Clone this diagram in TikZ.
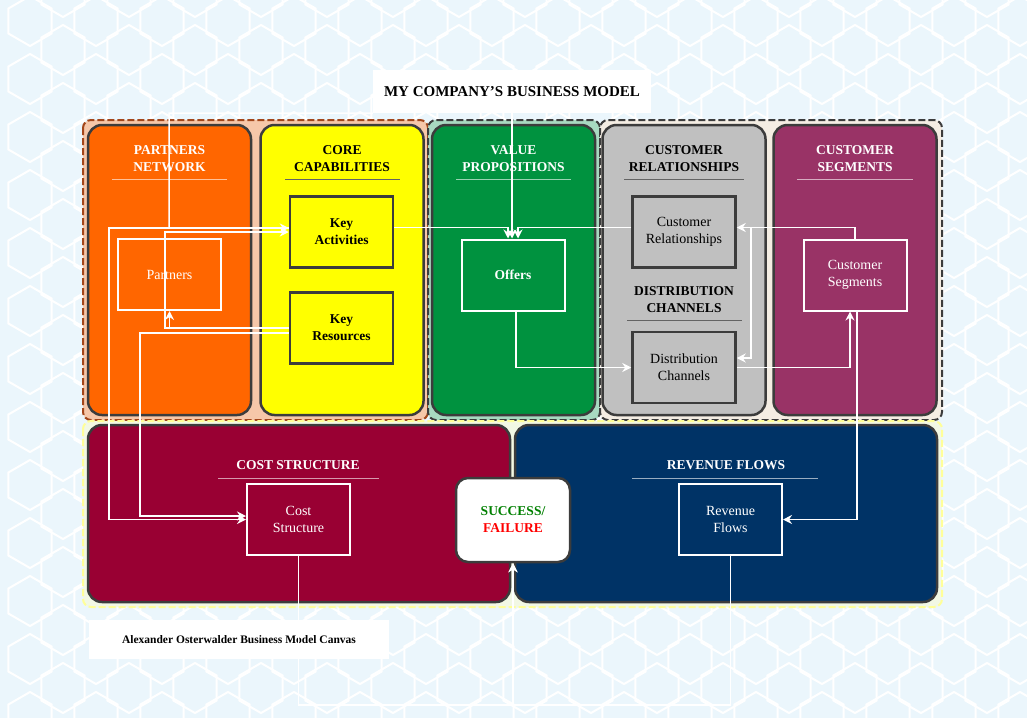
\documentclass[tikz,border=0pt]{standalone}
\usepackage{fontspec}
\setmainfont{Liberation Serif}
\usetikzlibrary{arrows.meta,calc}
\definecolor{bgc}{HTML}{EBF6FC}
\definecolor{pborder}{HTML}{3C3C3C}
\definecolor{cOrange}{HTML}{FF6600}
\definecolor{cYellow}{HTML}{FFFF00}
\definecolor{cGreen}{HTML}{00923F}
\definecolor{cGray}{HTML}{C0C0C0}
\definecolor{cPlum}{HTML}{993366}
\definecolor{cCrimson}{HTML}{990033}
\definecolor{cNavy}{HTML}{003366}
\definecolor{gOneFill}{HTML}{F6C7A9}
\definecolor{gOneLine}{HTML}{A3461A}
\definecolor{gTwoFill}{HTML}{A8D9C1}
\definecolor{gThreeFill}{HTML}{F4EDE3}
\definecolor{gFourFill}{HTML}{F2F8E4}
\definecolor{gFourLine}{HTML}{FFFF99}
\definecolor{okGreen}{HTML}{008000}
\definecolor{badRed}{HTML}{FF0000}
\begin{document}
\begin{tikzpicture}[x=1pt,y=-1pt,
  hexline/.style={draw=white, line width=2pt},
  grp/.style={line width=2pt, dash pattern=on 7pt off 3pt, rounded corners=8pt},
  panel/.style={draw=pborder, line width=2.5pt, rounded corners=14pt, minimum width=163pt, minimum height=290pt, inner sep=0pt},
  hdr/.style={align=center, font=\bfseries\fontsize{13.5}{17}\selectfont, inner sep=0pt},
  ulw/.style={draw=white, draw opacity=0.6, line width=1pt},
  uld/.style={draw=pborder!80, line width=1pt},
  wbox/.style={draw=white, line width=2pt, minimum width=103pt, minimum height=71pt, align=center, text=white, font=\fontsize{14}{17}\selectfont, inner sep=0pt},
  dbox/.style={draw=pborder, line width=2.5pt, minimum width=103pt, minimum height=71pt, align=center, text=black, font=\fontsize{14}{17}\selectfont, inner sep=0pt},
  arr/.style={draw=white, line width=1.5pt, -{Stealth[length=9pt,width=9pt,inset=3pt]}},
  lbl/.style={fill=white, inner sep=0pt}
]
\useasboundingbox (0,0) rectangle (1027,718);
\fill[bgc] (0,0) rectangle (1027,718);
\begin{scope}
\clip (0,0) rectangle (1027,718);
\foreach \i in {0,...,16} {
  \foreach \j in {0,...,13} {
    \draw[hexline] ({30+66*\i},{21+58*\j}) +(90:25) -- +(150:25) -- +(210:25) -- +(270:25) -- +(330:25) -- +(30:25) -- cycle;
    \draw[hexline] ({63+66*\i},{-8+58*\j}) +(90:25) -- +(150:25) -- +(210:25) -- +(270:25) -- +(330:25) -- +(30:25) -- cycle;
  }
}
\end{scope}

% group containers
\draw[grp, draw=gOneLine, fill=gOneFill] (83,120) rectangle (428,420);
\draw[grp, draw=pborder, fill=gTwoFill] (428,120) rectangle (600,420);
\draw[grp, draw=pborder, fill=gThreeFill] (600,120) rectangle (942,420);
\draw[grp, draw=gFourLine, fill=gFourFill] (83,421) rectangle (942,607);

% panels
\node[panel, fill=cOrange] (pPart) at (169.5,270) {};
\node[panel, fill=cYellow] (pCore) at (342,270) {};
\node[panel, fill=cGreen] (pValue) at (513.5,270) {};
\node[panel, fill=cGray] (pRel) at (684,270) {};
\node[panel, fill=cPlum] (pSeg) at (855,270) {};
\node[panel, fill=cCrimson, minimum width=422pt, minimum height=177pt] (pCost) at (299,513.5) {};
\node[panel, fill=cNavy, minimum width=422pt, minimum height=177pt] (pRev) at (726,513.5) {};

% headers
\node[hdr, text=white] (hPart) at (169.5,158.5) {PARTNERS\\NETWORK};
\draw[ulw] (112,179) -- (227,179);
\node[hdr, text=black] (hCore) at (342,158.5) {CORE\\CAPABILITIES};
\draw[uld] (285,179) -- (400,179);
\node[hdr, text=white] (hValue) at (513.5,158.5) {VALUE\\PROPOSITIONS};
\draw[ulw] (456,179) -- (571,179);
\node[hdr, text=black] (hRel) at (684,158.5) {CUSTOMER\\RELATIONSHIPS};
\draw[uld] (624,179) -- (744,179);
\node[hdr, text=white] (hSeg) at (855,158.5) {CUSTOMER\\SEGMENTS};
\draw[ulw] (797,179) -- (913,179);
\node[hdr, text=black] (hDist) at (684,299.5) {DISTRIBUTION\\CHANNELS};
\draw[uld] (627,320) -- (742,320);
\node[hdr, text=white] (hCost) at (298,465) {COST STRUCTURE};
\draw[ulw] (218,478) -- (379,478);
\node[hdr, text=white] (hRev) at (726,465) {REVENUE FLOWS};
\draw[ulw] (632,478) -- (818,478);

% title and footer
\node[lbl, minimum width=278pt, minimum height=43pt, font=\bfseries\fontsize{15}{17}\selectfont] (title) at (512,91.5) {MY COMPANY'S BUSINESS MODEL};
\node[lbl, minimum width=300pt, minimum height=39pt, font=\bfseries\fontsize{11.5}{13}\selectfont] (footer) at (239,639.5) {Alexander Osterwalder Business Model Canvas};

% inner boxes
\node[wbox] (partners) at (169.5,274.5) {Partners};
\node[dbox, fill=cYellow, font=\bfseries\fontsize{13.5}{17}\selectfont] (keyact) at (341.5,232) {Key\\Activities};
\node[dbox, fill=cYellow, font=\bfseries\fontsize{13.5}{17}\selectfont] (keyres) at (341.5,328) {Key\\Resources};
\node[wbox, font=\bfseries\fontsize{13.5}{17}\selectfont] (offers) at (513,275) {Offers};
\node[dbox, fill=cGray] (custrel) at (684,232) {Customer\\Relationships};
\node[dbox, fill=cGray] (distch) at (684,367.5) {Distribution\\Channels};
\node[wbox] (custseg) at (855,275) {Customer\\Segments};
\node[wbox] (cost) at (298.5,519.5) {Cost\\Structure};
\node[wbox] (revenue) at (730.5,519.5) {Revenue\\Flows};
\node[draw=pborder, line width=2.5pt, fill=white, rounded corners=12pt, minimum width=114pt, minimum height=84pt, align=center, font=\bfseries\fontsize{13.5}{17}\selectfont, inner sep=0pt] (success) at (513,520) {\textcolor{okGreen}{SUCCESS/}\\\textcolor{badRed}{FAILURE}};

% connectors
\draw[arr] (title.south) -- (title.south |- offers.north);
\draw[arr] (title.south west) -- (169,113) |- ([yshift=4pt]keyact.west);
\draw[arr] (keyres.west) -- (165,328) |- (keyact.west);
\draw[arr] (keyres.west) -| (partners.south);
\draw[arr] ([yshift=4pt]keyact.west) -- (109,228) |- (cost.west);
\draw[arr] ([yshift=-5pt]keyres.west) -- (140,333) |- ([yshift=3.5pt]cost.west);
\draw[arr] ([yshift=4.5pt]keyact.east) -| ([xshift=-5pt]offers.north);
\draw[arr] ([yshift=4.5pt]custrel.west) -| ([xshift=5pt]offers.north);
\draw[arr] ([xshift=3pt]offers.south) |- (distch.west);
\draw[arr] (custseg.north) |- ([yshift=4.5pt]custrel.east);
\draw[arr] (custseg.north) |- (751,227.5) |- ([yshift=9.5pt]distch.east);
\draw[arr] (distch.east) -| ([xshift=-5pt]custseg.south);
\draw[arr] ([xshift=2pt]custseg.south) |- (revenue.east);
\draw[arr] (cost.south) -- (298.5,705) -| (success.south);
\draw[arr] (revenue.south) -- (730.5,705) -| (success.south);
\end{tikzpicture}
\end{document}
